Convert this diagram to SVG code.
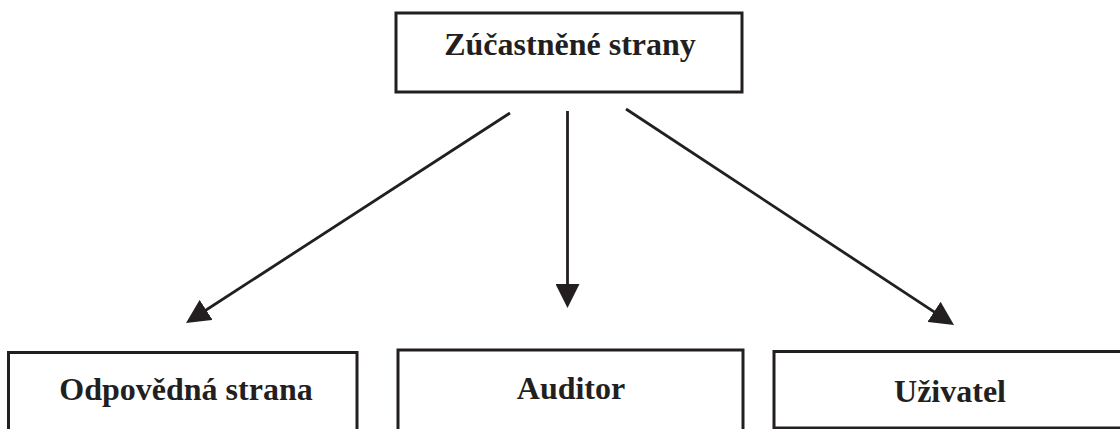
<svg xmlns="http://www.w3.org/2000/svg" width="1120" height="429" viewBox="0 0 1120 429">
<style>
.box{fill:#fff;stroke:#231f20;stroke-width:3}
.lbl{font-family:"Liberation Serif","Times New Roman",serif;font-weight:bold;font-size:32px;fill:#231f20;text-anchor:middle}
.conn{stroke:#231f20;stroke-width:2.8;fill:none;marker-end:url(#ah)}
</style>
<defs>
<marker id="ah" markerUnits="userSpaceOnUse" markerWidth="24" markerHeight="24" viewBox="0 0 24 24" refX="12" refY="12" orient="auto">
<path d="M0,0 L24,12 L0,24 z" fill="#231f20"/>
</marker>
</defs>
<rect width="1120" height="429" fill="#fff"/>
<g id="zucastnene">
<rect class="box" x="396" y="13" width="346" height="79"/>
<text class="lbl" x="570" y="55">Zúčastněné strany</text>
</g>
<g id="odpovedna">
<rect class="box" x="8.5" y="352.5" width="348.5" height="90"/>
<text class="lbl" x="186" y="400">Odpovědná strana</text>
</g>
<g id="auditor">
<rect class="box" x="398" y="350" width="345" height="92"/>
<text class="lbl" x="571" y="399">Auditor</text>
</g>
<g id="uzivatel">
<rect class="box" x="774" y="351.5" width="360" height="76.5"/>
<text class="lbl" x="950" y="402">Uživatel</text>
</g>
<g id="connectors">
<line class="conn" x1="510" y1="113" x2="196.1" y2="316.5"/>
<line class="conn" x1="567.5" y1="111" x2="567.5" y2="296"/>
<line class="conn" x1="626" y1="109" x2="944" y2="318.4"/>
</g>
</svg>
